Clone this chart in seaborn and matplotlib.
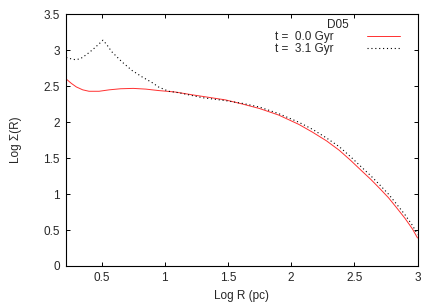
# Surface density profile of D05 at two epochs (gnuplot-style figure)

import pandas as pd
import matplotlib
matplotlib.use('Agg')
import matplotlib.pyplot as plt
import seaborn as sns


# Values
r_t0 = [0.22, 0.26, 0.30, 0.35, 0.40, 0.48, 0.56, 0.65, 0.75, 0.85, 0.95,
        1.08, 1.22, 1.35, 1.48, 1.62, 1.75, 1.90, 2.06, 2.17, 2.28, 2.38,
        2.47, 2.56, 2.63, 2.70, 2.77, 2.83, 2.90, 2.96, 3.00]
sigma_t0 = [2.60, 2.54, 2.49, 2.45, 2.43, 2.43, 2.45, 2.465, 2.47, 2.46, 2.44,
            2.42, 2.38, 2.345, 2.31, 2.25, 2.19, 2.10, 1.97, 1.86, 1.74, 1.61,
            1.47, 1.32, 1.205, 1.08, 0.95, 0.82, 0.665, 0.515, 0.39]

r_t31 = [0.22, 0.26, 0.29, 0.33, 0.38, 0.43, 0.48, 0.51, 0.54, 0.58, 0.66,
         0.74, 0.82, 0.90, 0.95, 1.03, 1.11, 1.30, 1.48, 1.62, 1.75, 1.90,
         2.06, 2.17, 2.28, 2.38, 2.47, 2.56, 2.63, 2.70, 2.77, 2.83, 2.90,
         2.96, 3.00]
sigma_t31 = [2.90, 2.88, 2.87, 2.88, 2.94, 3.01, 3.09, 3.14, 3.08, 2.98, 2.84,
             2.72, 2.63, 2.55, 2.49, 2.43, 2.41, 2.34, 2.30, 2.26, 2.21, 2.12,
             2.00, 1.90, 1.78, 1.66, 1.52, 1.37, 1.255, 1.13, 1.00, 0.87, 0.715,
             0.565, 0.44]

labels = ['t =  0.0 Gyr', 't =  3.1 Gyr']
x_ticks = [0.5, 1, 1.5, 2, 2.5, 3]
y_ticks = [0, 0.5, 1, 1.5, 2, 2.5, 3, 3.5]

FS = 8.5


def main():
    sns.set_style('ticks')
    plt.rcParams['font.family'] = ['Liberation Sans', 'DejaVu Sans']
    plt.rcParams['font.size'] = FS

    fig = plt.figure(figsize=(4.36, 3.05), dpi=100)
    ax = fig.add_axes([0.1514, 0.1279, 0.8062, 0.8251])

    df0 = pd.DataFrame({'r': r_t0, 's': sigma_t0})
    df1 = pd.DataFrame({'r': r_t31, 's': sigma_t31})

    sns.lineplot(data=df0, x='r', y='s', ax=ax, color='#ff3030',
                 linewidth=0.7, label=labels[0], sort=False)
    sns.lineplot(data=df1, x='r', y='s', ax=ax, color='black',
                 linewidth=0.8, linestyle=(0, (1, 2.5)), label=labels[1],
                 sort=False)

    ax.set_xlim(0.218, 3)
    ax.set_ylim(0, 3.5)
    ax.set_xticks(x_ticks)
    ax.set_xticklabels(['0.5', '1', '1.5', '2', '2.5', '3'])
    ax.set_yticks(y_ticks)
    ax.set_yticklabels(['0', '0.5', '1', '1.5', '2', '2.5', '3', '3.5'])
    ax.tick_params(direction='in', length=3, width=0.7, top=True, right=True,
                   labelsize=FS, pad=4.5, color='black')
    for sp in ax.spines.values():
        sp.set_linewidth(0.8)
        sp.set_color('black')

    ax.set_xlabel('Log R (pc)', fontsize=FS, labelpad=4)
    ax.set_ylabel('Log Σ(R)', fontsize=FS, labelpad=15)

    leg = ax.legend(title='D05', loc='upper right', frameon=False,
                    markerfirst=False, fontsize=FS, title_fontsize=FS,
                    handlelength=2.8, handletextpad=2.9, labelspacing=0.0,
                    borderaxespad=0.2, borderpad=0.2,
                    bbox_to_anchor=(0.965, 1.0))
    leg._legend_box.align = 'center'

    fig.savefig('out.png', dpi=100)


if __name__ == "__main__":
    main()
